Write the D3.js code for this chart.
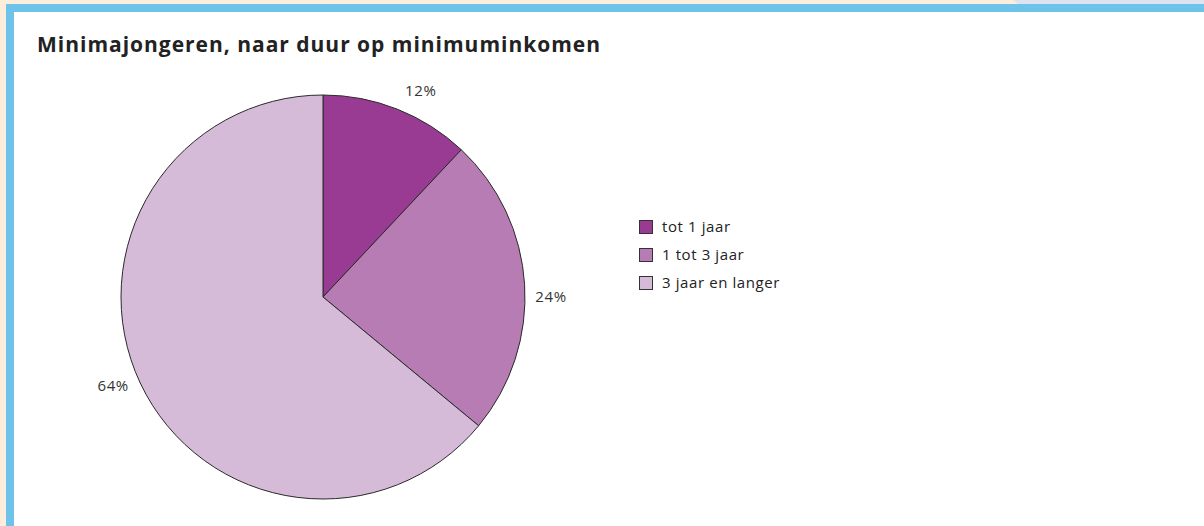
<!DOCTYPE html>
<html>
<head>
<meta charset="utf-8">
<script src="https://cdn.jsdelivr.net/npm/d3@7"></script>
<style>
  html, body { margin: 0; padding: 0; background: #fdeedb; }
  svg { display: block; }
</style>
</head>
<body>
<svg id="chart" width="1204" height="526"></svg>
<script>
// ---- data ----
const categories = ["tot 1 jaar", "1 tot 3 jaar", "3 jaar en langer"];
const values = [12, 24, 64];
const valueLabels = ["12%", "24%", "64%"];
const colors = ["#9a3b93", "#b77cb4", "#d6bbd8"];
const title = "Minimajongeren, naar duur op minimuminkomen";

// ---- layout ----
const W = 1204, H = 526;
const cx = 323, cy = 297, R = 202;
const labelR = 228;
const labelAngleDeg = [25.4, 90, 247]; // best-fit label placement
const font = "'Open Sans', 'Noto Sans', sans-serif";

const svg = d3.select("#chart");

// frame
svg.append("rect").attr("x", 0).attr("y", 0).attr("width", W).attr("height", H).attr("fill", "#fdeedb");
svg.append("path").attr("d", `M1013,0 L${W},0 L${W},5 L1020,5 Z`).attr("fill", "#dde3f0");
svg.append("rect").attr("x", 6).attr("y", 4).attr("width", W - 6).attr("height", H - 4).attr("fill", "#6ec3ea");
svg.append("rect").attr("x", 14).attr("y", 12).attr("width", W - 14).attr("height", H - 12).attr("fill", "#ffffff");

// title
svg.append("text")
  .attr("x", 37).attr("y", 52)
  .attr("font-family", font).attr("font-weight", "bold").attr("font-size", 21)
  .attr("textLength", 563).attr("lengthAdjust", "spacing")
  .attr("fill", "#222")
  .text(title);

// pie
const pie = d3.pie().sort(null).value(d => d)(values);
const arc = d3.arc().innerRadius(0).outerRadius(R);
const g = svg.append("g").attr("transform", `translate(${cx},${cy})`);
g.selectAll("path.slice").data(pie).join("path")
  .attr("class", "slice")
  .attr("d", arc)
  .attr("fill", (d, i) => colors[i])
  .attr("stroke", "#2a2a2a").attr("stroke-width", 1);

g.selectAll("text.lbl").data(pie).join("text")
  .attr("class", "lbl")
  .attr("x", (d, i) => labelR * Math.sin(labelAngleDeg[i] * Math.PI / 180))
  .attr("y", (d, i) => -labelR * Math.cos(labelAngleDeg[i] * Math.PI / 180))
  .attr("dy", "0.35em")
  .attr("text-anchor", "middle")
  .attr("font-family", font).attr("font-size", 15)
  .attr("letter-spacing", 0.6)
  .attr("fill", "#333")
  .text((d, i) => valueLabels[i]);

// legend
const legend = svg.append("g").attr("transform", "translate(639,227)");
const rowH = 28;
const items = legend.selectAll("g").data(categories).join("g")
  .attr("transform", (d, i) => `translate(0,${i * rowH})`);
items.append("rect")
  .attr("x", 0.5).attr("y", -6.5).attr("width", 13).attr("height", 13)
  .attr("fill", (d, i) => colors[i])
  .attr("stroke", "#333").attr("stroke-width", 1);
items.append("text")
  .attr("x", 23).attr("y", 0).attr("dy", "0.35em")
  .attr("font-family", font).attr("font-size", 15)
  .attr("letter-spacing", 0.6)
  .attr("fill", "#222")
  .text(d => d);
</script>
</body>
</html>
